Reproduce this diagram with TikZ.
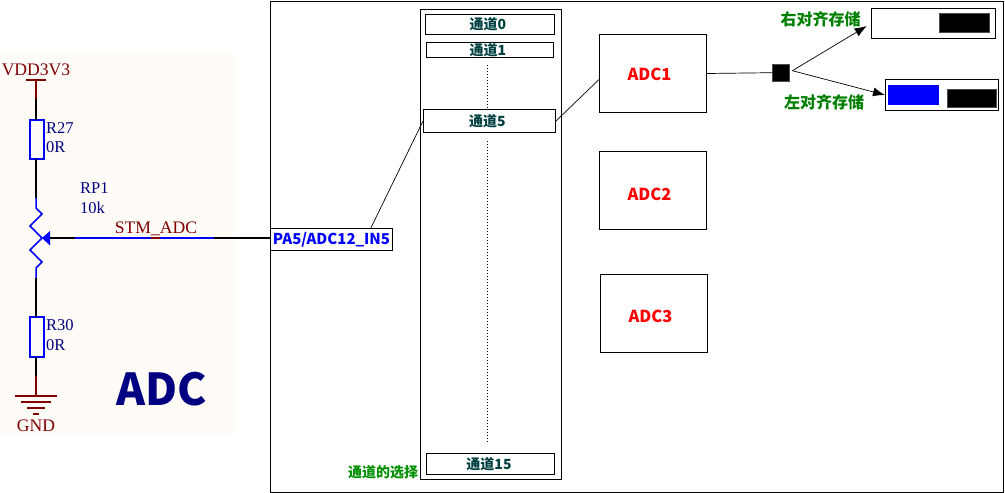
\documentclass[tikz,border=0pt]{standalone}
\usepackage{fontspec}
\setmainfont{Liberation Serif}
\newfontfamily\cjk{Noto Sans CJK SC}
\usetikzlibrary{arrows.meta,calc}
\definecolor{panel}{HTML}{FFFCF8}
\definecolor{wirered}{HTML}{800000}
\definecolor{compblue}{HTML}{0000FF}
\definecolor{labblue}{HTML}{000080}
\definecolor{chan}{HTML}{004040}
\definecolor{grn}{HTML}{007F00}
\definecolor{grn2}{HTML}{009000}
\tikzset{
  x=1pt,y=-1pt,
  wh/.style 2 args={minimum width=#1pt,minimum height=#2pt},
  boxn/.style={draw=black,line width=1pt,fill=white,inner sep=0pt,anchor=north west},
  chbox/.style={boxn,text=chan,font=\cjk\bfseries\fontsize{14}{14}\selectfont},
  adcbox/.style={boxn,minimum width=107pt,minimum height=78pt},
  adctext/.style={inner sep=0pt,text=red,font=\cjk\bfseries\fontsize{16.5}{16.5}\selectfont},
  grnlab/.style={text=grn,inner sep=0pt,font=\cjk\bfseries\fontsize{16}{16}\selectfont},
  pinw/.style={line width=1.5pt,black},
  redw/.style={line width=1.5pt,wirered},
  bluew/.style={line width=1.5pt,compblue},
  sch/.style={inner sep=0pt,text=labblue,font=\fontsize{16.5}{16.5}\selectfont,anchor=west},
  schr/.style={inner sep=0pt,text=wirered,font=\fontsize{17.6}{17.6}\selectfont},
  res/.style={draw=compblue,line width=1.5pt,fill=none,inner sep=0pt,minimum width=14pt},
  conn/.style={line width=.7pt,black},
  fillb/.style={fill=black,draw=black!70!white,line width=.4pt,inner sep=0pt,anchor=north west},
  dots/.style={line width=1.5pt,black,dash pattern=on 1.4pt off 1.6pt},
}
\begin{document}
\begin{tikzpicture}
\useasboundingbox (0,0) rectangle (1005,493);
\fill[white] (0,0) rectangle (1005,493);
\fill[panel] (0,51) rectangle (234,435);
% main frame and column
\node[boxn,wh={733}{491}] (frame) at (269.5,0.5) {};
\node[boxn,wh={141}{470}] (column) at (420,9) {};
% channels
\node[chbox,wh={129}{20}] (ch0) at (425,14) {\kern-4pt 通道0};
\node[chbox,wh={127}{15}] (ch1) at (426,42) {\kern-4pt 通道1};
\node[chbox,wh={132}{23}] (ch5) at (423,109) {\kern-4pt 通道5};
\node[chbox,wh={128}{21}] (ch15) at (426,453) {\kern-3pt 通道15};
\coordinate (d1a) at (487.5,65);
\coordinate (d1b) at (487.5,108);
\coordinate (d2a) at (487.5,141);
\coordinate (d2b) at (487.5,443);
\draw[dots] (d1a) -- (d1b);
\draw[dots] (d2a) -- (d2b);
\node[text=grn2,inner sep=0pt,font=\cjk\bfseries\fontsize{14}{14}\selectfont] (sel) at (383,472) {通道的选择};
% ADCs
\node[adcbox] (adc1) at (599,34) {};
\node[adcbox] (adc2) at (599,151) {};
\node[adcbox] (adc3) at (600,274) {};
\node[adctext] (adc1t) at (649.5,74) {ADC1};
\node[adctext] (adc2t) at (649.5,194) {ADC2};
\node[adctext] (adc3t) at (650.5,316) {ADC3};
% pin
\node[boxn,text=compblue,font=\cjk\bfseries\fontsize{15}{15}\selectfont,wh={122}{22}] (pa) at (270,228) {PA5/ADC12\_IN5};
\draw[conn] ($(pa.north west)!.82!(pa.north east)$) -- (ch5.west);
\draw[conn] (ch5.east) -- ($(adc1.west)+(0,6)$);
% storage
\node[boxn,wh={124}{30}] (rbox) at (871,8) {};
\node[fillb,wh={50}{19}] (rblack) at (939,13) {};
\node[boxn,wh={113}{31}] (lbox) at (885,79) {};
\node[fill=compblue,inner sep=0pt,anchor=north west,wh={51}{20}] (lblue) at (888,85) {};
\node[fillb,wh={49}{18}] (lblack) at (947,89) {};
\node[fillb,wh={17}{17}] (sq) at (772,64) {};
\draw[conn] (adc1.east) -- (sq.west);
\draw[conn,-{Latex[length=12pt,width=9pt]},shorten >=5pt] ($(sq.east)+(3,-2)$) -- (rbox.west);
\draw[conn,-{Latex[length=12pt,width=9pt]}] ($(sq.east)+(3,-2)$) -- (lbox.west);
\node[grnlab] (rlab) at (820.5,19) {右对齐存储};
\node[grnlab] (llab) at (824,102) {左对齐存储};
% schematic
\node[res,minimum height=39pt] (r27) at (37,139.5) {};
\node[res,minimum height=40pt] (r30) at (37,337) {};
\coordinate (vdd) at (36,80);
\coordinate (vddb) at (36,99);
\coordinate (top) at (36,198);
\coordinate (zt) at (36,208);
\coordinate (mid) at (42,238);
\coordinate (zb) at (36,268);
\coordinate (bot) at (36,278);
\coordinate (gndt) at (36,376);
\coordinate (gnd) at (36,396);
\draw[redw] (26,80) -- (46,80);
\draw[redw] (vdd) -- (vddb);
\draw[pinw] (vddb) -- (36,120);
\draw[pinw] (36,159) -- (top);
\draw[bluew,line join=miter] (top) -- (zt) -- (42,214) -- (30,226) -- (mid) -- (30,250) -- (42,262) -- (zb) -- (bot);
\draw[pinw] (bot) -- (36,317);
\draw[pinw] (36,357) -- (gndt);
\draw[redw] (gndt) -- (gnd);
\draw[redw] (15,396) -- (57,396);
\draw[redw] (21,402) -- (51,402);
\draw[redw] (27,408) -- (45,408);
\draw[redw] (33,414) -- (39,414);
\fill[compblue] (mid) -- (50,231) -- (50,245.5) -- cycle;
\draw[pinw] (50,238) -- (75,238);
\draw[bluew] (75,238) -- (151,238);
\draw[redw] (151,238) -- (160,238);
\draw[bluew] (160,238) -- (214,238);
\draw[pinw] (214,238) -- (pa.west |- 0,238);
\node[schr] (vddt) at (36,70) {VDD3V3};
\node[schr] (gndl) at (36,426) {GND};
\node[sch] (r27a) at (46,128) {R27};
\node[sch] (r27b) at (46,147) {0R};
\node[sch] (rp1) at (80,188) {RP1};
\node[sch] (rp1b) at (80,208) {10k};
\node[sch] (r30a) at (46,325) {R30};
\node[sch] (r30b) at (46,345) {0R};
\node[schr] (stm) at (156,229) {STM\_ADC};
\node[inner sep=0pt,text=labblue,font=\cjk\bfseries\fontsize{44}{44}\selectfont] (big) at (162,389) {ADC};
\end{tikzpicture}
\end{document}
